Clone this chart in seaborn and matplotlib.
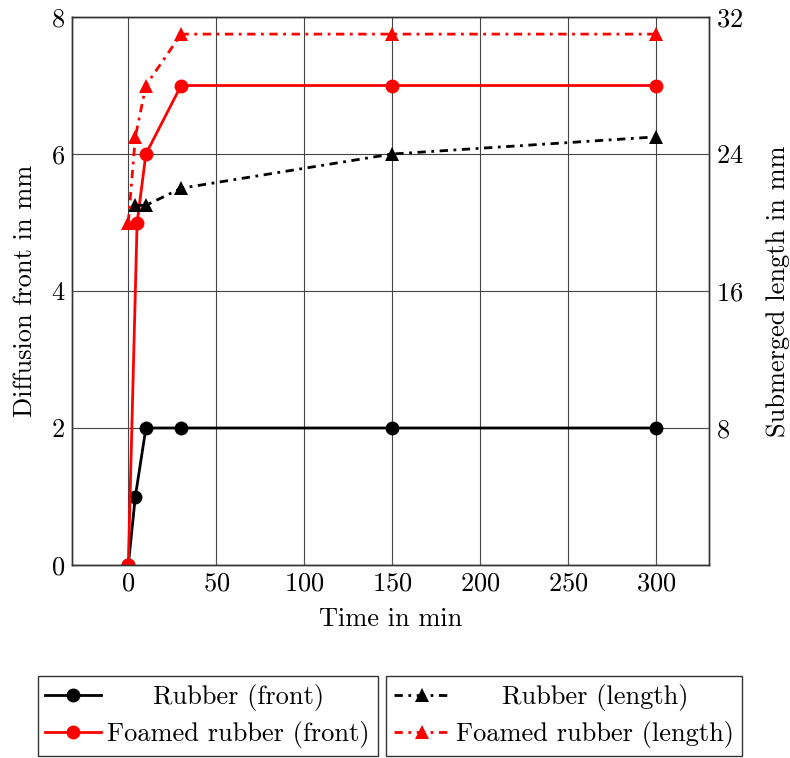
import seaborn as sns
import matplotlib.pyplot as plt
import matplotlib
from matplotlib.transforms import Affine2D

matplotlib.rcParams.update(
    {
        "font.family": "cmr10",
        "mathtext.fontset": "cm",
        "axes.formatter.use_mathtext": True,
    }
)

# diffusion front (left axis, mm)
t_rubber_front = [0, 4, 10, 30, 150, 300]
rubber_front = [0, 1, 2, 2, 2, 2]
t_foamed_front = [0, 5, 10, 30, 150, 300]
foamed_front = [0, 5, 6, 7, 7, 7]

# submerged length (right axis, mm)
t_rubber_length = [4, 10, 30, 150, 300]
rubber_length = [21, 21, 22, 24, 25]
t_foamed_length = [0, 4, 10, 30, 150, 300]
foamed_length = [20, 25, 28, 31, 31, 31]

x_ticks = [0, 50, 100, 150, 200, 250, 300]
left_ticks = [0, 2, 4, 6, 8]
right_ticks = [8, 16, 24, 32]

fs = 19
lw = 2.0
dashdot = (0, (3, 2, 1, 2))

fig = plt.figure(figsize=(7.9, 7.58), dpi=100)
ax = fig.add_axes([72 / 790, 1 - 565 / 758, (709 - 72) / 790, (565 - 17) / 758])
ax2 = ax.twinx()

sns.lineplot(x=t_rubber_front, y=rubber_front, ax=ax, color="black", marker="o",
             markersize=10, linewidth=lw, markeredgewidth=0, label="Rubber (front)")
sns.lineplot(x=t_foamed_front, y=foamed_front, ax=ax, color="red", marker="o",
             markersize=10, linewidth=lw, markeredgewidth=0, label="Foamed rubber (front)")
sns.lineplot(x=t_rubber_length, y=rubber_length, ax=ax2, color="black", marker="^",
             markersize=10.5, linewidth=lw, linestyle=dashdot, markeredgewidth=0,
             label="Rubber (length)")
sns.lineplot(x=t_foamed_length, y=foamed_length, ax=ax2, color="red", marker="^",
             markersize=10.5, linewidth=lw, linestyle=dashdot, markeredgewidth=0,
             label="Foamed rubber (length)")

h1, l1 = ax.get_legend_handles_labels()
h2, l2 = ax2.get_legend_handles_labels()
ax.get_legend().remove()
ax2.get_legend().remove()

ax.set_xlim(-32, 330)
ax.set_ylim(0, 8)
ax2.set_ylim(0, 32)
ax.set_xticks(x_ticks)
ax.set_yticks(left_ticks)
ax2.set_yticks(right_ticks)

ax.grid(True, color="#444444", linewidth=0.8)
ax.set_axisbelow(True)
for a in (ax, ax2):
    a.tick_params(direction="in", length=4, labelsize=fs, color="#555555", pad=5)
    for s in a.spines.values():
        s.set_color("#333333")
        s.set_linewidth(1.0)

ax.set_xlabel("Time in min", fontsize=fs, labelpad=8)
ax.set_ylabel("Diffusion front in mm", fontsize=fs, labelpad=10)
ax2.set_ylabel("Submerged length in mm", fontsize=fs, labelpad=16)

leg_kw = dict(fontsize=fs, frameon=True, fancybox=False, edgecolor="black",
              handlelength=2.1, handletextpad=0.25, borderpad=0.3,
              labelspacing=0.4, borderaxespad=0)
leg1 = fig.legend(h1, l1, loc="upper right", bbox_to_anchor=(378 / 790, 1 - 676 / 758), **leg_kw)
leg2 = fig.legend(h2, l2, loc="upper left", bbox_to_anchor=(386 / 790, 1 - 676 / 758), **leg_kw)

# centre the legend labels like pgfplots does
fig.canvas.draw()
renderer = fig.canvas.get_renderer()
for leg in (leg1, leg2):
    leg.get_frame().set_linewidth(1.0)
    texts = leg.get_texts()
    widths = [t.get_window_extent(renderer).width for t in texts]
    wmax = max(widths)
    for t, w in zip(texts, widths):
        t.set_transform(t.get_transform() + Affine2D().translate((wmax - w) / 2, 0))

fig.savefig("out.png", dpi=100)
